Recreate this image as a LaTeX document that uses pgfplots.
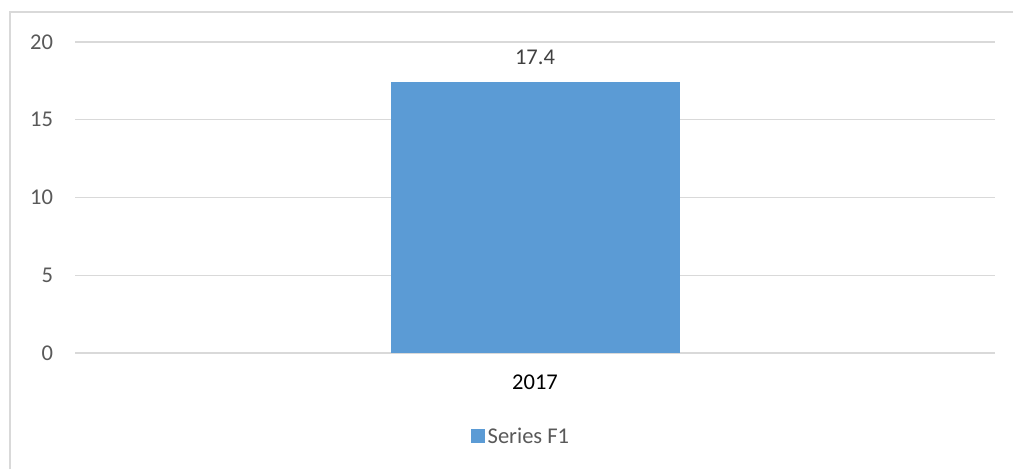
\documentclass[border=0pt]{standalone}
\usepackage{pgfplots}
\pgfplotsset{compat=1.18}
\usepackage{fontspec}
\setmainfont{Carlito}
\definecolor{barblue}{HTML}{5B9BD5}
\definecolor{gridgray}{HTML}{D9D9D9}
\definecolor{framegray}{HTML}{D9D9D9}
\definecolor{ticktext}{HTML}{595959}
\definecolor{valtext}{HTML}{404040}
\begin{document}
\begin{tikzpicture}
\useasboundingbox (0,0) rectangle (759.75pt,351.75pt);
\draw[framegray, line width=1.1pt] (7.5pt,0) -- (7.5pt,342.75pt) -- (759.75pt,342.75pt);
\begin{axis}[
  at={(56.25pt,87pt)}, anchor=south west,
  scale only axis,
  width=690pt, height=233.25pt,
  xmin=-1, xmax=1,
  ymin=0, ymax=20,
  ytick={0,5,10,15,20},
  xtick={0}, xticklabels={2017},
  major tick length=0pt,
  axis line style={draw=none},
  ymajorgrids, grid style={gridgray, line width=0.8pt},
  extra y ticks={0}, extra y tick labels={},
  extra y tick style={grid style={gridgray, line width=0.9pt}},
  font=\fontsize{16.9}{20}\selectfont,
  /pgf/number format/assume math mode=true,
  yticklabel style={text=ticktext, anchor=east, xshift=-13pt},
  xticklabel style={text=black, anchor=center, yshift=-22pt},
  ybar, bar width=216.75pt,
  nodes near coords,
  nodes near coords style={text=valtext, anchor=center, yshift=19pt, /pgf/number format/fixed, /pgf/number format/precision=1},
  legend style={at={(0.485,-0.27)}, anchor=center, draw=none, fill=none, text=ticktext, font=\fontsize{16.9}{20}\selectfont},
  legend image code/.code={\fill[barblue] (0cm,-0.16cm) rectangle (0.38cm,0.22cm);},
  clip=false,
]
\addplot[fill=barblue, draw=none] coordinates {(0,17.4)};
\addlegendentry{Series F1}
\end{axis}
\end{tikzpicture}
\end{document}
